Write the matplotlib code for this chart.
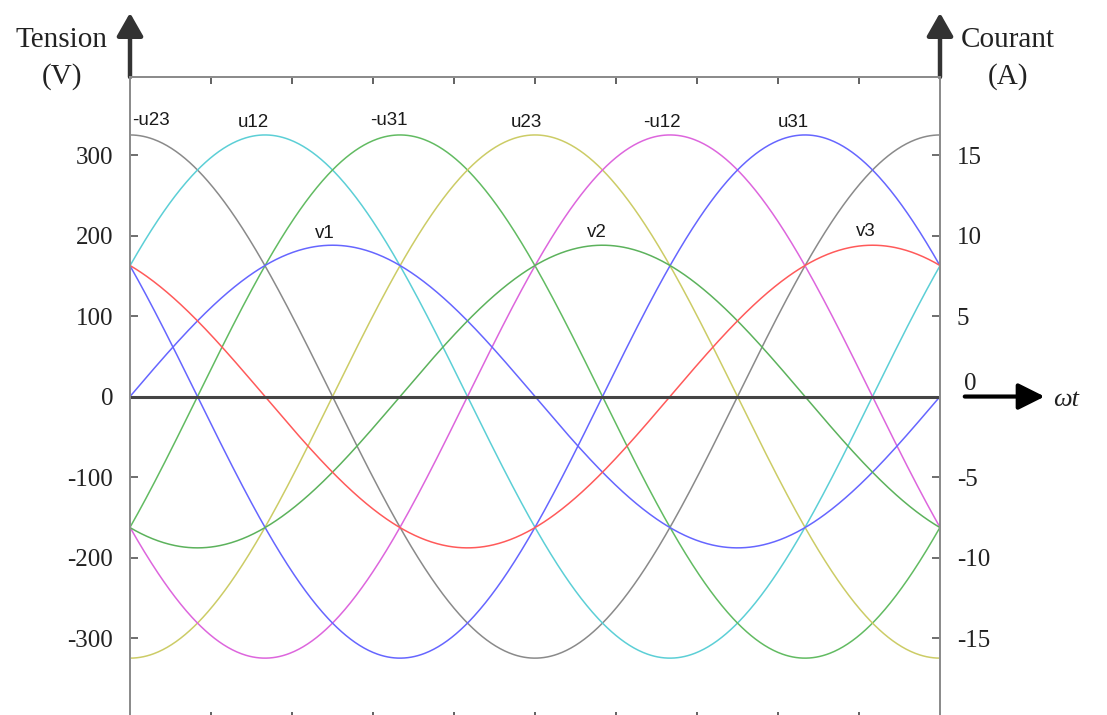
"""Three-phase voltages: simple and line-to-line waveforms over one period."""

import numpy as np
import matplotlib.pyplot as plt

# one period, in degrees of wt
WT = np.linspace(0, 360, 721)

# line-to-line voltages (V): peak value and angle of the peak
line_names = ["-u23", "u12", "-u31", "u23", "-u12", "u31"]
line_peak = [325, 325, 325, 325, 325, 325]
line_peak_at = [0, 60, 120, 180, 240, 300]
line_colors = ["#8a8a8a", "#5ccfd6", "#62bb62", "#cccc66", "#dd66dd", "#6666ff"]
line_label_x = [9.3, 54.7, 115, 176, 236.4, 294.7]
line_label_y = [343, 341, 343, 341, 341, 341]

# simple voltages (V)
phase_names = ["v1", "v2", "v3"]
phase_peak = [188, 188, 188]
phase_peak_at = [90, 210, 330]
phase_colors = ["#6666ff", "#5cb25c", "#ff5a5a"]
phase_label_x = [86.7, 207.6, 327]
phase_label_y = [202, 204, 205]

x_ticks = [0, 36, 72, 108, 144, 180, 216, 252, 288, 324, 360]
volt_ticks = [-300, -200, -100, 0, 100, 200, 300]
amp_ticks = [-15, -10, -5, 5, 10, 15]

SERIF = "Liberation Serif"
SANS = "Liberation Sans"
W, H = 1107, 715


def _wave(peak, peak_at):
    return peak * np.cos(np.radians(WT - peak_at))


fig = plt.figure(figsize=(W / 100, H / 100), dpi=100)
ax = fig.add_axes([130 / W, 1 - 718.5 / H, 810 / W, 641.5 / H])
ax2 = ax.twinx()

for name, pk, at, col, lx, ly in zip(
    line_names, line_peak, line_peak_at, line_colors, line_label_x, line_label_y
):
    ax.plot(WT, _wave(pk, at), color=col, lw=1.1)
    ax.text(lx, ly, name, ha="center", va="center", fontsize=13.5,
            family=SANS, color="#1a1a1a")

for name, pk, at, col, lx, ly in zip(
    phase_names, phase_peak, phase_peak_at, phase_colors, phase_label_x, phase_label_y
):
    ax.plot(WT, _wave(pk, at), color=col, lw=1.1)
    ax.text(lx, ly, name, ha="center", va="center", fontsize=13.5,
            family=SANS, color="#1a1a1a")

# zero line
ax.axhline(0, color="#444444", lw=2.2, zorder=5)

ax.set_xlim(0, 360)
ax.set_ylim(-400, 397)
ax2.set_ylim(-20, 19.85)

ax.set_xticks(x_ticks)
ax.set_xticklabels([])
ax.tick_params(axis="x", direction="in", top=True, bottom=True,
               length=5, width=1.3, color="#555555")
ax.set_yticks(volt_ticks)
ax.set_yticklabels([str(v) for v in volt_ticks], family=SERIF,
                   fontsize=18, color="#222222")
ax.tick_params(axis="y", direction="in", length=6, width=1.2,
               color="#555555", pad=12)

ax2.set_yticks(amp_ticks)
ax2.set_yticklabels([str(v) for v in amp_ticks], family=SERIF,
                    fontsize=18, color="#222222")
ax2.tick_params(axis="y", direction="in", length=6, width=1.2,
                color="#555555", pad=12)

for a in (ax, ax2):
    for side in ("left", "right", "top", "bottom"):
        a.spines[side].set_color("#8c8c8c")
        a.spines[side].set_linewidth(1.4)

# right-side zero, raised above the wt arrow
fig.text(970 / W, 1 - 384 / H, "0", ha="center", va="center",
         family=SERIF, fontsize=18, color="#222222")

# vertical arrows on both axes
for xf in (0, 1):
    ax.annotate("", xy=(xf, 1.1), xytext=(xf, 1.0), xycoords="axes fraction",
                annotation_clip=False,
                arrowprops=dict(arrowstyle="-|>,head_length=0.7,head_width=0.4",
                                lw=3.2, color="#333333", mutation_scale=20,
                                shrinkA=0, shrinkB=0))

# wt arrow
ax.annotate("", xy=(406.5, 0), xytext=(371, 0), xycoords="data",
            annotation_clip=False,
            arrowprops=dict(arrowstyle="-|>,head_length=0.8,head_width=0.4",
                            lw=3, color="black", mutation_scale=20,
                            shrinkA=0, shrinkB=0))
fig.text(1066 / W, 1 - 400 / H, "ωt", ha="center", va="center",
         family=SERIF, style="italic", fontsize=19, color="#222222")

# axis titles
for x, top, bottom in ((62, "Tension", "(V)"), (1008, "Courant", "(A)")):
    fig.text(x / W, 1 - 40 / H, top, ha="center", va="center",
             family=SERIF, fontsize=21, color="#222222")
    fig.text(x / W, 1 - 77 / H, bottom, ha="center", va="center",
             family=SERIF, fontsize=21, color="#222222")

fig.savefig("out.png", dpi=100)
